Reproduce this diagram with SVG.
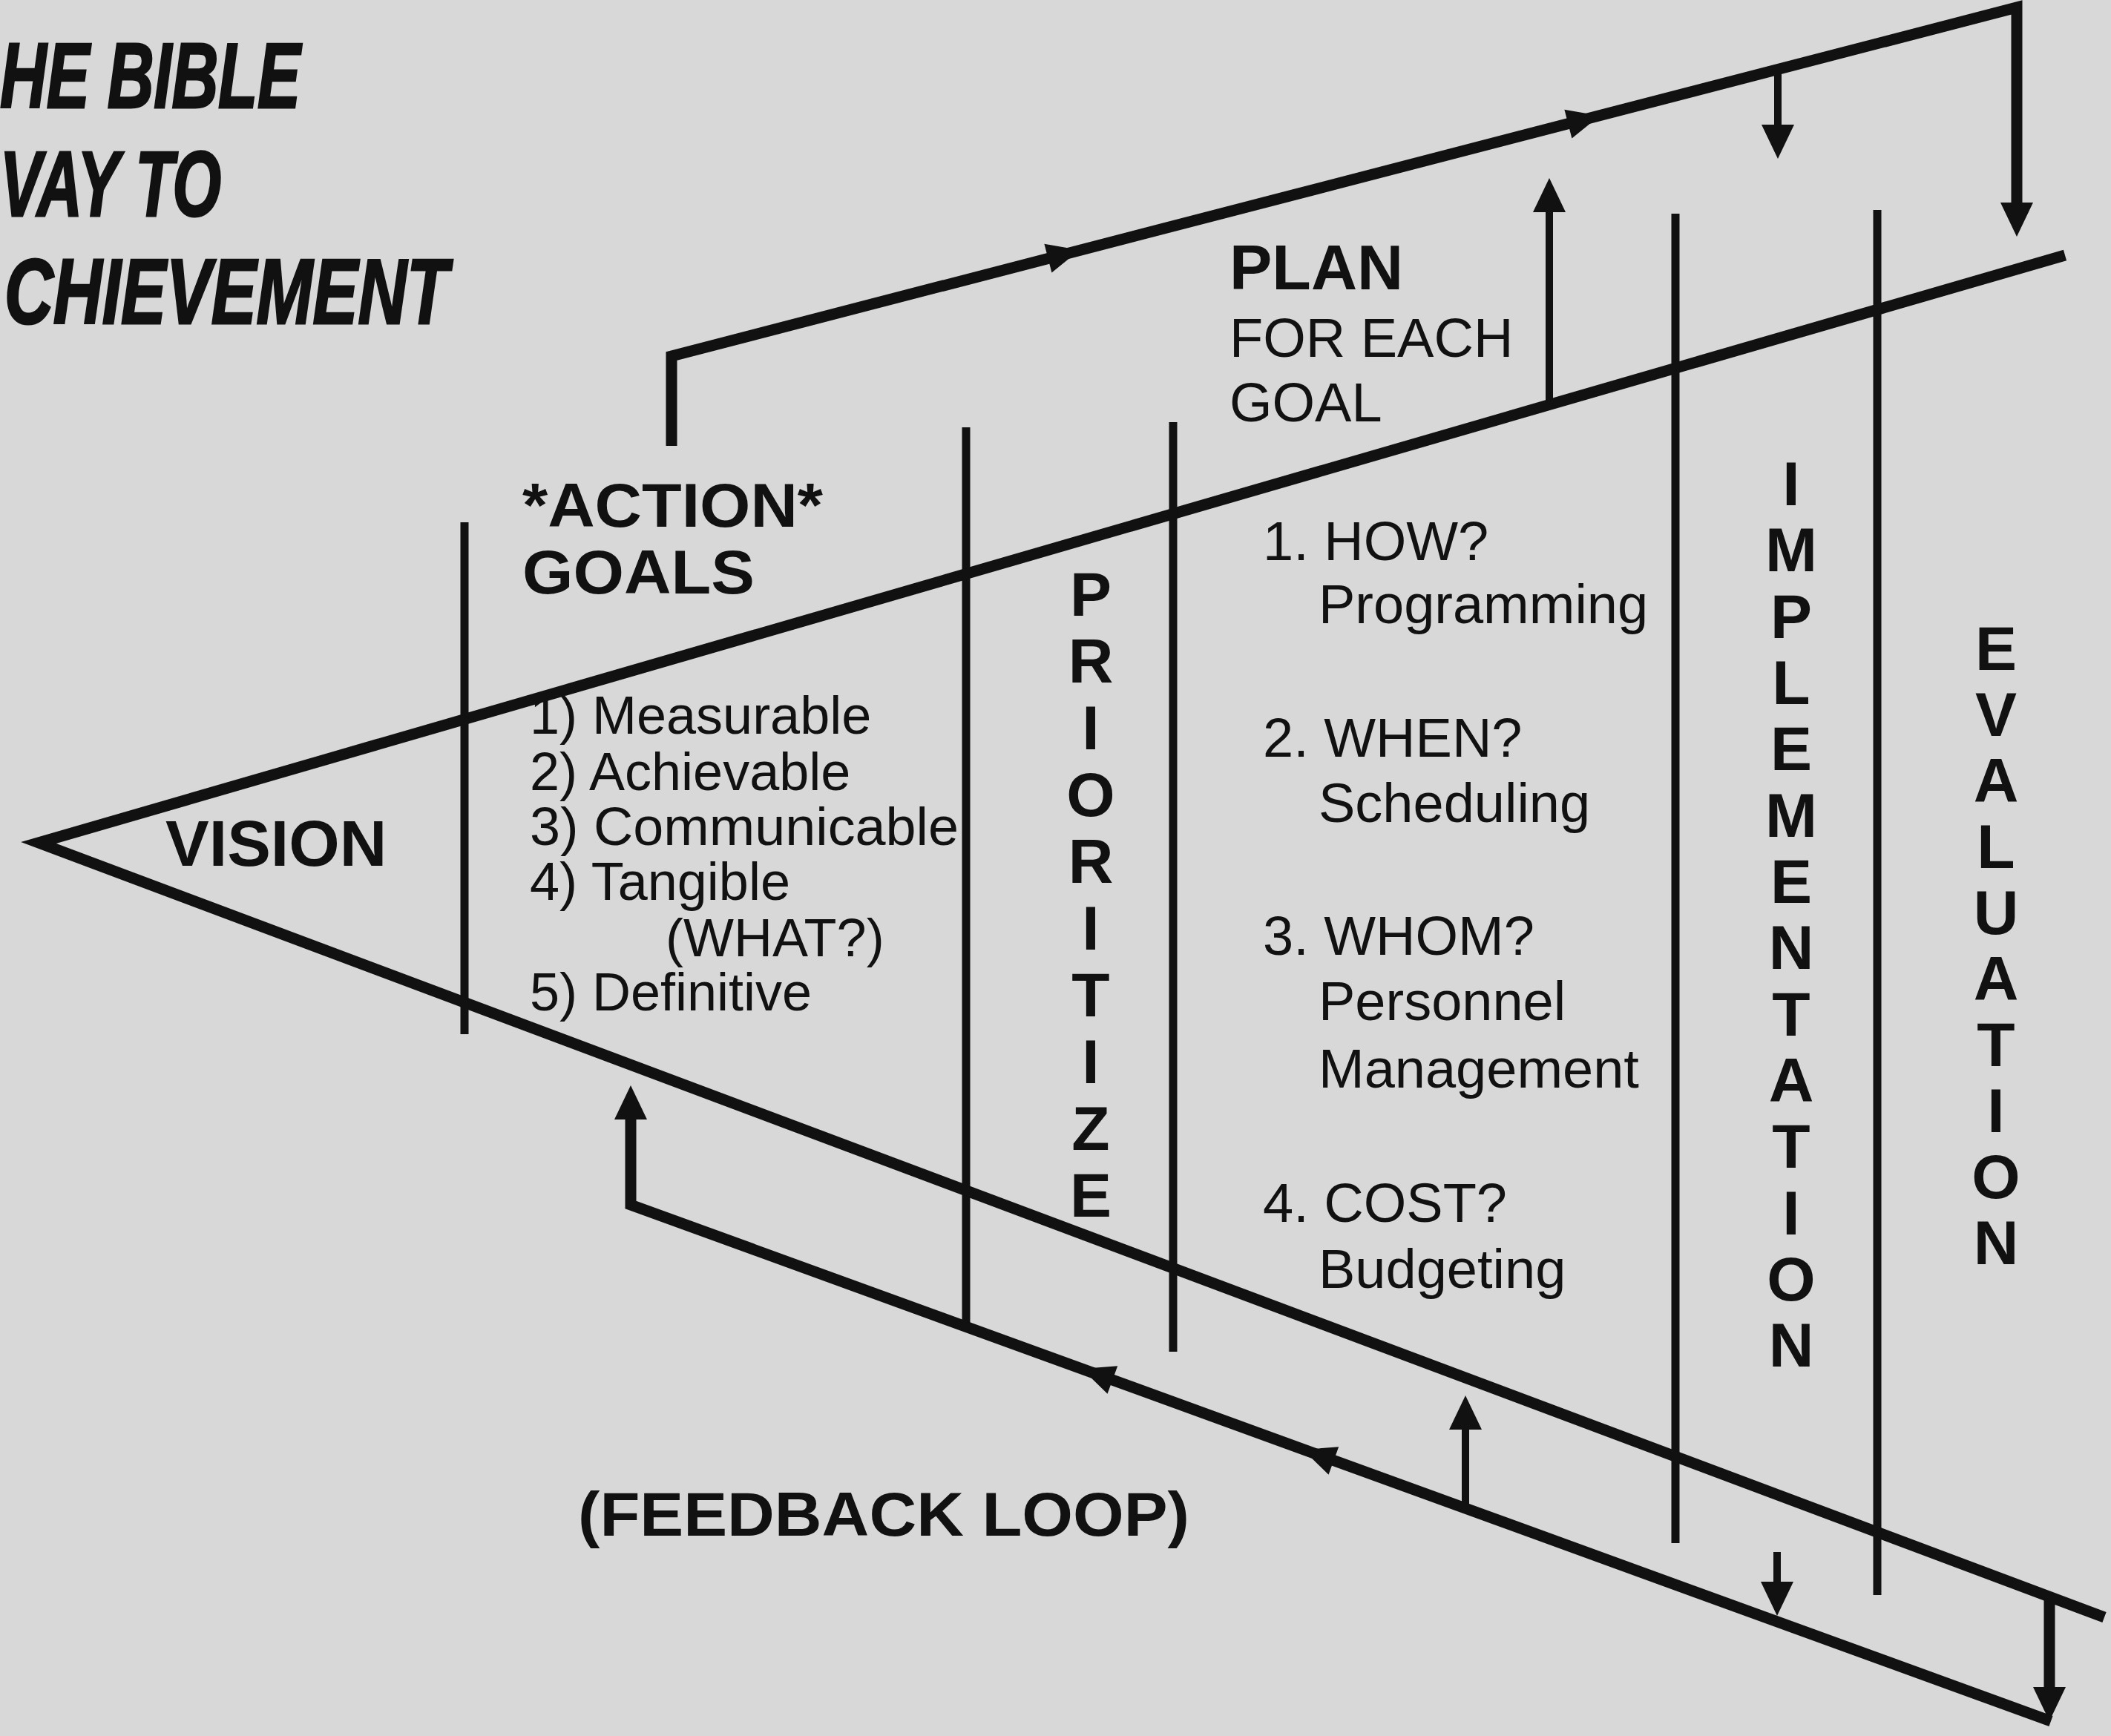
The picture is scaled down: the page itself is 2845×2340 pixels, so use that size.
<svg xmlns="http://www.w3.org/2000/svg" width="2845" height="2340" viewBox="0 0 2845 2340">
<defs>
<style>
.bg{fill:#d8d8d8}
.b{font-family:"Liberation Sans",Arial,sans-serif;font-weight:bold;fill:#111}
.r{font-family:"Liberation Sans",Arial,sans-serif;fill:#111}
.t{font-family:"Liberation Sans",Arial,sans-serif;font-weight:bold;font-style:italic;fill:#111;stroke:#111;stroke-width:3;font-size:124px}
.v{font-family:"Liberation Sans",Arial,sans-serif;font-weight:bold;fill:#111;font-size:84px;text-anchor:middle}
.ln{stroke:#111;fill:none;stroke-width:15;stroke-linejoin:miter}
.vl{stroke:#111;fill:none;stroke-width:11}
.ar{stroke:#111;fill:none;stroke-width:10}
.head{fill:#111}
</style>
<marker id="arr" viewBox="0 0 46 44" refX="0" refY="22" markerWidth="46" markerHeight="44" markerUnits="userSpaceOnUse" orient="auto">
<path d="M0,0 L46,22 L0,44 z" fill="#111"/>
</marker>
<path id="mid" d="M-44,-20 L0,0 L-44,20 z"/>
</defs>
<rect class="bg" x="0" y="0" width="2845" height="2340"/>

<g id="title">
<text class="t" x="0" y="145" textLength="405" lengthAdjust="spacingAndGlyphs">HE BIBLE</text>
<text class="t" x="0" y="291" textLength="298" lengthAdjust="spacingAndGlyphs">VAY TO</text>
<text class="t" x="6" y="436" textLength="598" lengthAdjust="spacingAndGlyphs">CHIEVEMENT</text>
</g>

<g id="connectors">
<path class="ln" d="M2783,344 L52,1136 L2836,2180"/>
<path class="vl" d="M626,704 V1394"/>
<path class="vl" d="M1302,576 V1784"/>
<path class="vl" d="M1581,569 V1822"/>
<path class="vl" d="M2258,288 V2080"/>
<path class="vl" d="M2530,283 V2150"/>
<path class="ln" d="M905,601 V480 L2718,10 V273" marker-end="url(#arr)"/>
<use href="#mid" class="head" transform="translate(1455,337) rotate(-14.53)"/>
<use href="#mid" class="head" transform="translate(2156,156) rotate(-14.53)"/>
<path class="ar" d="M2396,94 V168" marker-end="url(#arr)"/>
<path class="ar" d="M2088,546 V286" marker-end="url(#arr)"/>
<path class="ln" d="M2762,2157 V2274" marker-end="url(#arr)"/>
<path class="ln" d="M2764,2320 L850,1624 V1509" marker-end="url(#arr)"/>
<use href="#mid" class="head" transform="translate(1458,1845) rotate(199.98)"/>
<use href="#mid" class="head" transform="translate(1756,1954) rotate(199.98)"/>
<path class="ar" d="M1975,2033 V1927" marker-end="url(#arr)"/>
<path class="ar" d="M2395,2092 V2132" marker-end="url(#arr)"/>
</g>

<g id="vision">
<text class="b" x="223" y="1167" font-size="88">VISION</text>
</g>

<g id="action-goals">
<text class="b" x="704" y="710" font-size="84" textLength="405" lengthAdjust="spacingAndGlyphs">*ACTION*</text>
<text class="b" x="704" y="800" font-size="84" textLength="313" lengthAdjust="spacingAndGlyphs">GOALS</text>
</g>

<g id="goal-criteria" font-size="72">
<text class="r" x="714" y="989">1) Measurable</text>
<text class="r" x="714" y="1065">2) Achievable</text>
<text class="r" x="714" y="1139" textLength="578" lengthAdjust="spacingAndGlyphs">3) Communicable</text>
<text class="r" x="714" y="1213">4) Tangible</text>
<text class="r" x="897" y="1289">(WHAT?)</text>
<text class="r" x="714" y="1362">5) Definitive</text>
</g>

<g id="prioritize">
<text class="v" x="1470" y="830">P</text>
<text class="v" x="1470" y="920">R</text>
<text class="v" x="1470" y="1010">I</text>
<text class="v" x="1470" y="1100">O</text>
<text class="v" x="1470" y="1190">R</text>
<text class="v" x="1470" y="1280">I</text>
<text class="v" x="1470" y="1370">T</text>
<text class="v" x="1470" y="1460">I</text>
<text class="v" x="1470" y="1550">Z</text>
<text class="v" x="1470" y="1640">E</text>
</g>

<g id="plan">
<text class="b" x="1657" y="390" font-size="86">PLAN</text>
<text class="r" x="1657" y="481" font-size="74">FOR EACH</text>
<text class="r" x="1657" y="568" font-size="74">GOAL</text>
</g>

<g id="plan-steps" font-size="74">
<text class="r" x="1702" y="755">1. HOW?</text>
<text class="r" x="1777" y="840">Programming</text>
<text class="r" x="1702" y="1020">2. WHEN?</text>
<text class="r" x="1777" y="1108">Scheduling</text>
<text class="r" x="1702" y="1287">3. WHOM?</text>
<text class="r" x="1777" y="1375">Personnel</text>
<text class="r" x="1777" y="1466">Management</text>
<text class="r" x="1702" y="1647">4. COST?</text>
<text class="r" x="1777" y="1736">Budgeting</text>
</g>

<g id="implementation">
<text class="v" x="2414" y="681">I</text>
<text class="v" x="2414" y="770">M</text>
<text class="v" x="2414" y="860">P</text>
<text class="v" x="2414" y="949">L</text>
<text class="v" x="2414" y="1038">E</text>
<text class="v" x="2414" y="1128">M</text>
<text class="v" x="2414" y="1217">E</text>
<text class="v" x="2414" y="1306">N</text>
<text class="v" x="2414" y="1396">T</text>
<text class="v" x="2414" y="1485">A</text>
<text class="v" x="2414" y="1574">T</text>
<text class="v" x="2414" y="1664">I</text>
<text class="v" x="2414" y="1753">O</text>
<text class="v" x="2414" y="1842">N</text>
</g>

<g id="evaluation">
<text class="v" x="2690" y="903">E</text>
<text class="v" x="2690" y="992">V</text>
<text class="v" x="2690" y="1081">A</text>
<text class="v" x="2690" y="1170">L</text>
<text class="v" x="2690" y="1259">U</text>
<text class="v" x="2690" y="1348">A</text>
<text class="v" x="2690" y="1437">T</text>
<text class="v" x="2690" y="1526">I</text>
<text class="v" x="2690" y="1615">O</text>
<text class="v" x="2690" y="1704">N</text>
</g>

<g id="feedback-label">
<text class="b" x="779" y="2070" font-size="84" textLength="824" lengthAdjust="spacingAndGlyphs">(FEEDBACK LOOP)</text>
</g>
</svg>
